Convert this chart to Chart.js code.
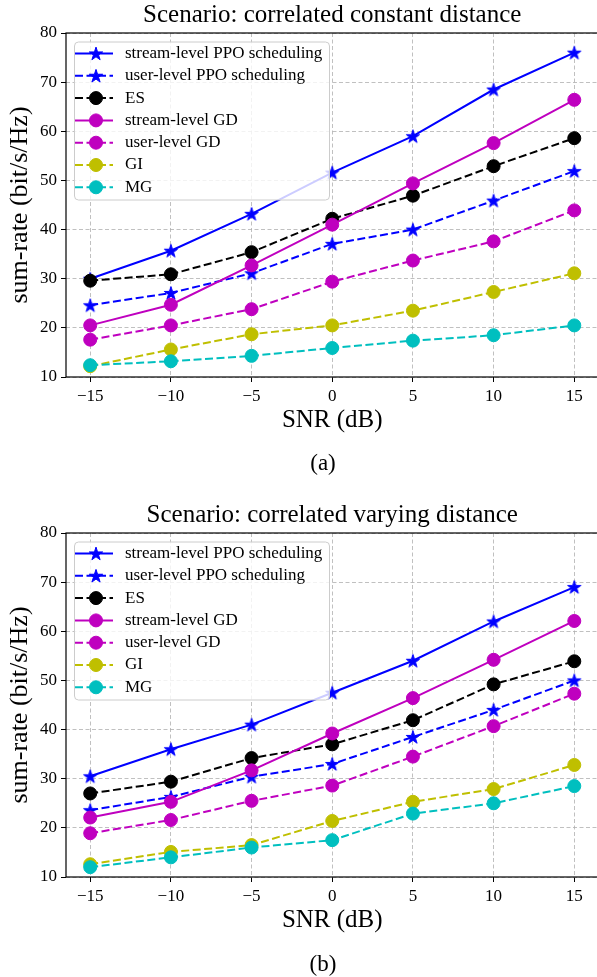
<!DOCTYPE html>
<html>
<head>
<meta charset="utf-8">
<script src="https://cdn.jsdelivr.net/npm/chart.js@4.4.1/dist/chart.umd.min.js"></script>
<style>
  html, body { margin: 0; padding: 0; background: #fff; overflow: hidden; }
  .panel { position: absolute; left: 0; width: 606px; height: 490px; }
  .caption { position: absolute; width: 80px; left: 283px; text-align: center;
    font: 23px 'Liberation Serif', serif; line-height: 28px; color: #000; }
</style>
</head>
<body>
<div class="panel" style="top:0"><canvas id="chartA"></canvas></div>
<div class="caption" style="top:449px">(a)</div>
<div class="panel" style="top:500px"><canvas id="chartB"></canvas></div>
<div class="caption" style="top:950px">(b)</div>
<script>
// x values and tick labels
const snr = [-15, -10, -5, 0, 5, 10, 15];
const seriesNames = ['stream-level PPO scheduling', 'user-level PPO scheduling', 'ES',
  'stream-level GD', 'user-level GD', 'GI', 'MG'];

// (a) correlated constant distance
const aStreamPPO = [30.0, 35.7, 43.2, 51.6, 59.0, 68.5, 76.0];
const aUserPPO   = [24.6, 27.1, 31.1, 37.1, 40.0, 45.9, 51.9];
const aES        = [29.6, 30.9, 35.4, 42.2, 46.9, 52.9, 58.6];
const aStreamGD  = [20.5, 24.7, 32.7, 41.0, 49.4, 57.6, 66.4];
const aUserGD    = [17.6, 20.5, 23.8, 29.4, 33.7, 37.6, 43.9];
const aGI        = [12.2, 15.6, 18.7, 20.5, 23.5, 27.3, 31.1];
const aMG        = [12.4, 13.2, 14.3, 15.9, 17.4, 18.5, 20.5];

// (b) correlated varying distance
const bStreamPPO = [30.5, 36.0, 41.0, 47.5, 54.0, 62.0, 69.0];
const bUserPPO   = [23.6, 26.3, 30.4, 33.0, 38.5, 44.0, 50.0];
const bES        = [27.0, 29.4, 34.2, 37.0, 41.9, 49.2, 53.9];
const bStreamGD  = [22.1, 25.3, 31.7, 39.2, 46.4, 54.2, 62.1];
const bUserGD    = [18.9, 21.6, 25.5, 28.6, 34.5, 40.7, 47.3];
const bGI        = [12.6, 15.1, 16.5, 21.4, 25.3, 27.9, 32.8];
const bMG        = [12.0, 14.0, 16.0, 17.5, 22.9, 25.0, 28.5];

const BLUE = '#0000ff', BLACK = '#000000', MAG = '#bf00bf', YEL = '#bfbf00', CYAN = '#00bfbf';
const DASH = [8, 3.5];
const styles = [
  { color: BLUE,  dash: [],   marker: 'star' },
  { color: BLUE,  dash: DASH, marker: 'star' },
  { color: BLACK, dash: DASH, marker: 'circle' },
  { color: MAG,   dash: [],   marker: 'circle' },
  { color: MAG,   dash: DASH, marker: 'circle' },
  { color: YEL,   dash: DASH, marker: 'circle' },
  { color: CYAN,  dash: DASH, marker: 'circle' }
];

Chart.defaults.font.family = "'Liberation Serif', 'Times New Roman', serif";
Chart.defaults.color = '#000';

function starPath(ctx, x, y, R) {
  const r = R * 0.382;
  ctx.beginPath();
  for (let i = 0; i < 10; i++) {
    const rad = i % 2 === 0 ? R : r;
    const a = -Math.PI / 2 + i * Math.PI / 5;
    const px = x + rad * Math.cos(a), py = y + rad * Math.sin(a);
    if (i === 0) ctx.moveTo(px, py); else ctx.lineTo(px, py);
  }
  ctx.closePath();
}

function starImage(color) {
  const c = document.createElement('canvas');
  c.width = 18; c.height = 18;
  const g = c.getContext('2d');
  starPath(g, 9, 9.6, 7);
  g.fillStyle = color; g.fill();
  g.strokeStyle = color; g.lineWidth = 1; g.stroke();
  return c;
}
const blueStar = starImage(BLUE);

// black box around plot area + matplotlib-like legend on top of the lines
const framePlugin = {
  id: 'frameLegend',
  afterDatasetsDraw(chart) {
    const { ctx, chartArea: ca } = chart;
    ctx.save();
    // legend
    const bx = ca.left + 8, by = ca.top + 8.5, bw = 255, bh = 158;
    ctx.beginPath();
    ctx.roundRect(bx + 0.5, by + 0.5, bw, bh, 4);
    ctx.fillStyle = 'rgba(255,255,255,0.8)';
    ctx.fill();
    ctx.strokeStyle = '#cccccc';
    ctx.lineWidth = 1;
    ctx.stroke();
    ctx.font = "17px 'Liberation Serif', serif";
    ctx.textBaseline = 'middle';
    chart.data.datasets.forEach((ds, i) => {
      const y = by + 12 + i * 22.3;
      const st = styles[i];
      ctx.strokeStyle = st.color;
      ctx.lineWidth = 2;
      ctx.setLineDash(st.dash);
      ctx.beginPath();
      ctx.moveTo(bx + 1, y);
      ctx.lineTo(bx + 39, y);
      ctx.stroke();
      ctx.setLineDash([]);
      if (st.marker === 'star') {
        starPath(ctx, bx + 22, y + 0.6, 7);
        ctx.fillStyle = st.color; ctx.fill();
        ctx.lineWidth = 1; ctx.stroke();
      } else {
        ctx.beginPath();
        ctx.arc(bx + 22, y, 6.5, 0, Math.PI * 2);
        ctx.fillStyle = st.color; ctx.fill();
        ctx.lineWidth = 1; ctx.stroke();
      }
      ctx.fillStyle = '#000';
      ctx.fillText(ds.label, bx + 51, y);
    });
    // frame
    ctx.strokeStyle = '#000';
    ctx.lineWidth = 1.2;
    ctx.strokeRect(ca.left, ca.top, ca.right - ca.left, ca.bottom - ca.top);
    ctx.restore();
  }
};

function makeChart(id, title, series) {
  const datasets = series.map((vals, i) => {
    const st = styles[i];
    return {
      label: seriesNames[i],
      data: snr.map((x, k) => ({ x: x, y: vals[k] })),
      borderColor: st.color,
      backgroundColor: st.color,
      borderWidth: 2,
      borderDash: st.dash,
      pointStyle: st.marker === 'star' ? blueStar : 'circle',
      pointRadius: 6.5,
      pointBorderWidth: 1,
      pointBorderColor: st.color,
      pointBackgroundColor: st.color,
      tension: 0,
      order: series.length - i
    };
  });
  const grid = {
    color: '#b0b0b0',
    lineWidth: 0.8,
    drawTicks: true,
    tickLength: 5,
    tickColor: '#000',
    tickWidth: 1,
    tickBorderDash: []
  };
  const border = { display: false, dash: [4, 2.5] };
  return new Chart(document.getElementById(id), {
    type: 'line',
    data: { datasets },
    options: {
      responsive: true,
      maintainAspectRatio: false,
      animation: false,
      layout: { padding: { top: 0, right: 0, left: 0, bottom: 39 } },
      plugins: {
        legend: { display: false },
        tooltip: { enabled: false },
        title: {
          display: true, text: title, color: '#000', fullSize: false,
          font: { size: 25, weight: 'normal' },
          padding: { top: 0, bottom: 3 }
        }
      },
      scales: {
        x: {
          type: 'linear', min: -16.5, max: 16.5,
          border: border,
          grid: grid,
          afterFit: s => { s.height = 74; },
          ticks: {
            stepSize: 5, includeBounds: false, padding: 4,
            font: { size: 17 }, color: '#000',
            callback: v => (v < 0 ? '\u2212' + Math.abs(v) : String(v))
          },
          title: {
            display: true, text: 'SNR (dB)', color: '#000',
            font: { size: 25 }, padding: { top: 0, bottom: 16 }
          }
        },
        y: {
          min: 10, max: 80,
          border: border,
          grid: grid,
          afterFit: s => { s.width = 66; },
          ticks: { stepSize: 10, padding: 4, font: { size: 17 }, color: '#000' },
          title: {
            display: true, text: 'sum-rate (bit/s/Hz)', color: '#000',
            font: { size: 26 }, padding: { top: 4.4, bottom: 0 }
          }
        }
      }
    },
    plugins: [framePlugin]
  });
}

makeChart('chartA', 'Scenario: correlated constant distance',
  [aStreamPPO, aUserPPO, aES, aStreamGD, aUserGD, aGI, aMG]);
makeChart('chartB', 'Scenario: correlated varying distance',
  [bStreamPPO, bUserPPO, bES, bStreamGD, bUserGD, bGI, bMG]);
</script>
</body>
</html>
